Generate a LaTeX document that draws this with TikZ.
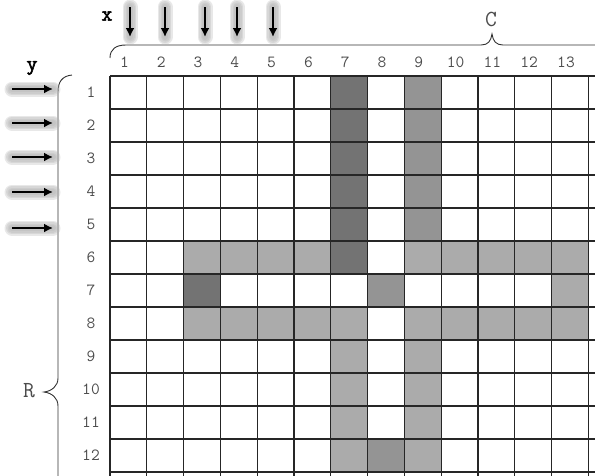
\documentclass[tikz,border=0pt]{standalone}
\usepackage{fontspec}
\newfontfamily\negrita{Latin Modern Mono}[FakeBold=2.5]
\usetikzlibrary{arrows.meta}

% bloque de celdas: col ini, fila ini, col fin, fila fin, estilo
\newcommand{\bloque}[5]{\fill[#5] ({110+36.8*(#1-1)},{76+33*(#2-1)}) rectangle ({110+36.8*#3},{76+33*#4});}

\begin{document}
\begin{tikzpicture}[x=1pt,y=-1pt,line width=1.1pt,>={Latex[length=9pt,width=9pt]},
  num/.style={font=\ttfamily\fontsize{17}{17}\selectfont,text=black!70},
  letra/.style={font=\ttfamily\fontsize{23}{23}\selectfont,text=black!70},
  eje/.style={font=\negrita\fontsize{21}{21}\selectfont},
  flecha/.style={->,line width=2.6pt},
  halo/.style={line width=#1,black!30,opacity=0.3,line cap=round},
  oscuro/.style={black!55},medio/.style={black!42},claro/.style={black!33}]
  \useasboundingbox (0,0) rectangle (595,475);
  \clip (0,0) rectangle (595,475);
  % lapiz
  \bloque{7}{1}{7}{6}{oscuro}
  \bloque{9}{1}{9}{5}{medio}
  \bloque{3}{6}{6}{6}{claro}
  \bloque{3}{7}{3}{7}{oscuro}
  \bloque{3}{8}{7}{8}{claro}
  \bloque{8}{7}{8}{7}{medio}
  \bloque{9}{6}{13}{6}{claro}
  \bloque{13}{7}{13}{7}{claro}
  \bloque{9}{8}{13}{8}{claro}
  \bloque{7}{9}{7}{12}{claro}
  \bloque{9}{9}{9}{12}{claro}
  \bloque{8}{12}{8}{12}{medio}
  % rejilla
  \foreach \k in {0,...,14} \draw[black!85] ({110+36.8*\k},76) -- ({110+36.8*\k},480);
  \foreach \j in {0,...,13} \draw[black!85] (110,{76+33*\j}) -- (600,{76+33*\j});
  % numeros
  \foreach \i in {1,...,14} \node[num] (c\i) at ({106+36.8*(\i-0.5)},62) {\i};
  \foreach \i in {1,...,12} \node[num] (f\i) at (91,{76+33*(\i-0.5)}) {\i};
  % llaves
  \draw[black!80,line width=0.9pt] (110,58) .. controls (110,49) and (116,45) .. (126,45) -- (481,45)
    .. controls (488,45) and (491,41) .. (492,34) .. controls (493,41) and (496,45) .. (503,45) -- (600,45);
  \draw[black!80,line width=0.9pt] (72,75) .. controls (62,76) and (58,82) .. (58,92) -- (58,378)
    .. controls (58,386) and (52,391) .. (44,392) .. controls (52,393) and (58,398) .. (58,406) -- (58,480);
  \node[letra] (C) at (491,19) {C};
  \node[letra] (R) at (29,391) {R};
  % flechas x
  \node[eje] (x) at (107,16) {x};
  \foreach \i/\xx in {1/130,2/165,3/205,4/237,5/273} {
    \coordinate (xa\i) at (\xx,7); \coordinate (xb\i) at (\xx,37);
    \foreach \w in {15pt,12pt,9pt,6pt} \draw[halo=\w] (xa\i) -- (xb\i);
    \draw[flecha] (xa\i) -- (xb\i);
  }
  % flechas y
  \node[eje] (y) at (32,68) {y};
  \foreach \i/\yy in {1/89,2/123,3/157,4/192,5/228} {
    \coordinate (ya\i) at (12,\yy); \coordinate (yb\i) at (53,\yy);
    \foreach \w in {15pt,12pt,9pt,6pt} \draw[halo=\w] (ya\i) -- (yb\i);
    \draw[flecha] (ya\i) -- (yb\i);
  }
\end{tikzpicture}
\end{document}
